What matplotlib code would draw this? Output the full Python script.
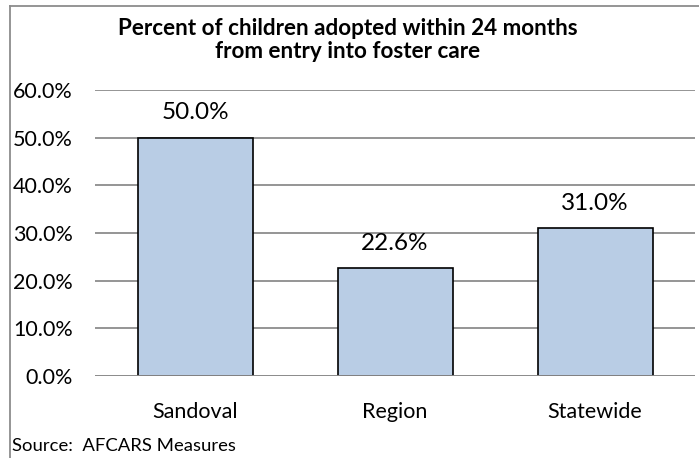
import matplotlib.pyplot as plt
from matplotlib.lines import Line2D

plt.rcParams['font.family'] = ['Lato', 'DejaVu Sans']

# Data
categories = ['Sandoval', 'Region', 'Statewide']
values = [50.0, 22.6, 31.0]
yticks = [0, 10, 20, 30, 40, 50, 60]

W, H = 699, 458
fig = plt.figure(figsize=(W / 100, H / 100), dpi=100)

# plot area in pixels: x 95..695, y 90..376
ax = fig.add_axes([95 / W, 1 - 376 / H, 600 / W, (376 - 90) / H])

x = range(len(categories))
ax.bar(x, values, width=0.575, color='#b9cde5', edgecolor='black',
       linewidth=1.2, zorder=3)
for xi, v in zip(x, values):
    ax.annotate(f'{v:.1f}%', (xi, v), xytext=(0, 18), textcoords='offset points',
                ha='center', va='center', fontsize=17.5)

ax.set_xlim(-0.5, 2.5)
ax.set_ylim(0, 60)
ax.set_yticks(yticks)
ax.set_yticklabels([f'{t:.1f}%' for t in yticks], fontsize=15.5)
ax.set_xticks(list(x))
ax.set_xticklabels(categories, fontsize=15.5)
ax.tick_params(axis='both', length=0)
ax.tick_params(axis='y', pad=16)
ax.tick_params(axis='x', pad=19)
ax.yaxis.grid(True, color='#8c8c8c', linewidth=1.3, zorder=0)
for s in ax.spines.values():
    s.set_visible(False)
ax.axhline(0, color='#8c8c8c', linewidth=1.3, zorder=4)

fig.text(348 / W, 1 - 40 / H,
         'Percent of children adopted within 24 months\nfrom entry into foster care',
         ha='center', va='center', fontsize=16.2, fontweight='bold',
         linespacing=1.1)
fig.text(12 / W, 1 - 446 / H, 'Source:  AFCARS Measures', ha='left',
         va='center', fontsize=13.3)

# chart border (left and top visible)
fig.add_artist(Line2D([10 / W, 10 / W], [0, 1 - 6 / H], transform=fig.transFigure,
                      color='#8c8c8c', linewidth=1.3))
fig.add_artist(Line2D([10 / W, 1], [1 - 6 / H, 1 - 6 / H], transform=fig.transFigure,
                      color='#8c8c8c', linewidth=1.3))

fig.savefig('out.png', dpi=100)
